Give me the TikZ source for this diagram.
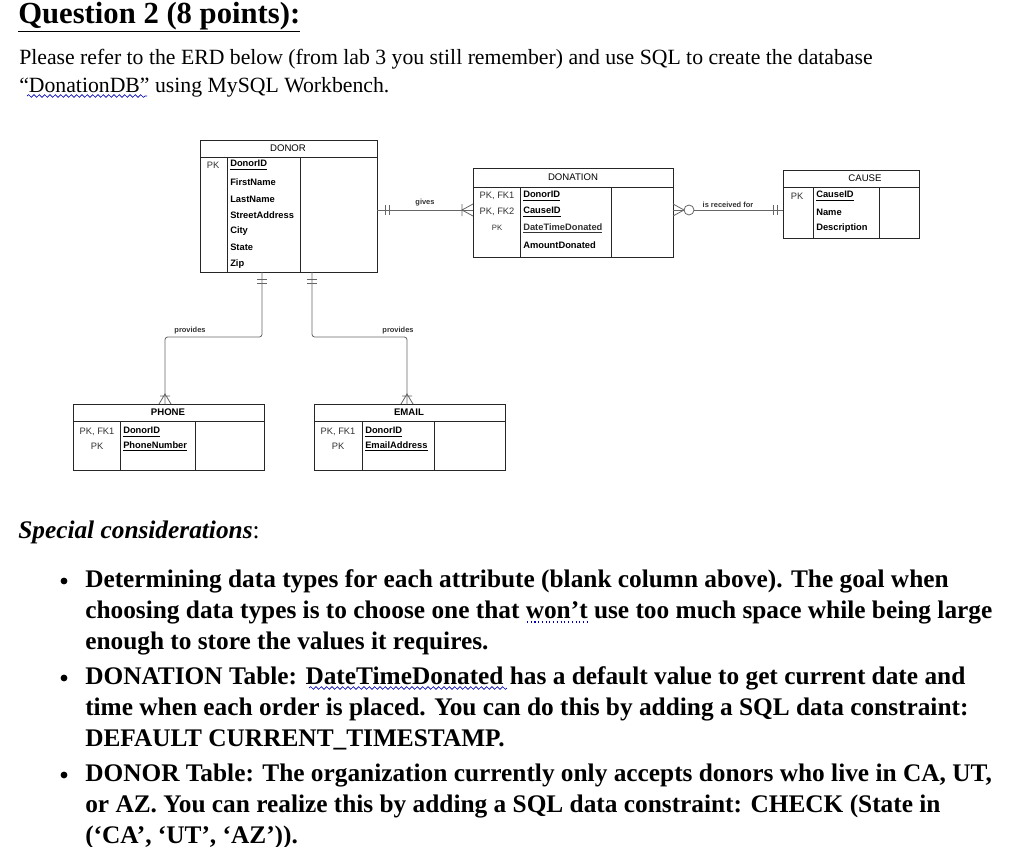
\documentclass[tikz,border=0pt]{standalone}
\usepackage{fontspec}
\setmainfont{Liberation Serif}
\newfontfamily\dsans{Liberation Sans}
\usetikzlibrary{decorations.pathmorphing}
\begin{document}
\begin{tikzpicture}[x=0.75pt,y=-0.75pt,
  tb/.style={draw=black!85,line width=0.6pt},
  lnk/.style={draw=black!60,line width=0.6pt},
  ttl/.style={font=\dsans\fontsize{7.2}{8}\selectfont,inner sep=0pt},
  ttlb/.style={font=\dsans\bfseries\fontsize{7.2}{8}\selectfont,inner sep=0pt},
  key/.style={font=\dsans\fontsize{7}{8}\selectfont,inner sep=0pt,text=black!80},
  att/.style={font=\dsans\bfseries\fontsize{7}{8}\selectfont,inner sep=0pt,anchor=west},
  rel/.style={font=\dsans\bfseries\fontsize{5.6}{7}\selectfont,inner sep=0pt,text=black!80},
  para/.style={font=\fontsize{16.3}{18}\selectfont,inner sep=0pt,anchor=base west},
  bul/.style={font=\bfseries\fontsize{19}{21}\selectfont,inner sep=0pt,anchor=base west},
  wavy/.style={draw=blue!70!black,line width=0.5pt,decorate,decoration={snake,amplitude=1pt,segment length=4pt}}]
\useasboundingbox[fill=white] (0,0) rectangle (1016,846);
% header text
\node[font=\bfseries\fontsize{23}{26}\selectfont,inner sep=0pt,anchor=base west] (q) at (18,23) {\underline{Question 2 (8 points):}};
\node[para] (p1) at (19,64) {Please refer to the ERD below (from lab 3 you still remember) and use SQL to create the database};
\node[para] (p2) at (19,92) {“DonationDB” using MySQL Workbench.};
\draw[wavy] (27,96) -- (147,96);
% DONOR
\draw[tb] (200,140) rectangle (377,272); \draw[tb] (200,157)--(377,157);
\draw[tb] (227,157)--(227,272); \draw[tb] (300,157)--(300,272);
\node[ttl] (donor) at (288,148) {DONOR};
\node[key] at (213,165) {PK};
\node[att] at (230,165) {\underline{DonorID}};
\node[att] at (230,182) {FirstName};
\node[att] at (230,199) {LastName};
\node[att] at (230,215) {StreetAddress};
\node[att] at (230,231) {City};
\node[att] at (230,247) {State};
\node[att] at (230,264) {Zip};
% DONATION
\draw[tb] (473,168) rectangle (673,257); \draw[tb] (473,187)--(673,187);
\draw[tb] (520,187)--(520,257); \draw[tb] (611,187)--(611,257);
\node[ttl] (donation) at (573,177) {DONATION};
\node[key] at (497,196) {PK, FK1};
\node[key] at (497,212) {PK, FK2};
\node[key,font=\dsans\fontsize{5.8}{7}\selectfont] at (497,228) {PK};
\node[att] at (523,196) {\underline{DonorID}};
\node[att] at (523,212) {\underline{CauseID}};
\node[att,font=\dsans\fontsize{7}{8}\selectfont\mdseries,text=black!80] at (523,228) {\underline{\textbf{DateTimeDonated}}};
\node[att] at (523,245) {AmountDonated};
% CAUSE
\draw[tb] (783,170) rectangle (919,238); \draw[tb] (783,187)--(919,187);
\draw[tb] (813,187)--(813,238); \draw[tb] (879,187)--(879,238);
\node[ttl] (cause) at (865,178) {CAUSE};
\node[key] at (797,196) {PK};
\node[att] at (816,196) {\underline{CauseID}};
\node[att] at (816,212) {Name};
\node[att] at (816,228) {Description};
% PHONE
\draw[tb] (73,404) rectangle (264,470); \draw[tb] (73,421)--(264,421);
\draw[tb] (120,421)--(120,470); \draw[tb] (195,421)--(195,470);
\node[ttlb] (phone) at (168,412) {PHONE};
\node[key] at (97,432) {PK, FK1};
\node[key] at (97,446) {PK};
\node[att] at (123,432) {\underline{DonorID}};
\node[att] at (123,446) {\underline{PhoneNumber}};
% EMAIL
\draw[tb] (314,404) rectangle (505,470); \draw[tb] (314,421)--(505,421);
\draw[tb] (362,421)--(362,470); \draw[tb] (434,421)--(434,470);
\node[ttlb] (email) at (409,412) {EMAIL};
\node[key] at (338,432) {PK, FK1};
\node[key] at (338,446) {PK};
\node[att] at (365,432) {\underline{DonorID}};
\node[att] at (365,446) {\underline{EmailAddress}};
% connection points
\coordinate (dr) at (377,210); \coordinate (nl) at (473,210);
\coordinate (nr) at (673,210); \coordinate (cl) at (783,210);
\coordinate (db1) at (262,272); \coordinate (db2) at (312,272);
\coordinate (pt) at (165,404); \coordinate (et) at (407,404);
% gives
\draw[lnk] (dr) -- (nl) node[rel,midway,above=3pt] {gives};
\draw[lnk] (385,205)--(385,215) (389,205)--(389,215);
\draw[lnk] (473,204)--(462,210)--(473,216) (462,204)--(462,216);
% is received for
\draw[lnk] (nr) -- (684,210) (694,210) -- (cl);
\node[rel] at (728,205) {is received for};
\draw[lnk] (673,204)--(684,210)--(673,216);
\draw[lnk] (689,210) circle (5);
\draw[lnk] (773,205)--(773,215) (777,205)--(777,215);
% provides
\draw[lnk,rounded corners=2pt] (db1) |- (165,337) -- (pt);
\draw[lnk,rounded corners=2pt] (db2) |- (407,337) -- (et);
\node[rel] at (190,331) {provides};
\node[rel] at (398,331) {provides};
\draw[lnk] (257,279)--(267,279) (257,283)--(267,283);
\draw[lnk] (307,279)--(317,279) (307,283)--(317,283);
\draw[lnk] (159,404)--(165,394)--(171,404) (160,396)--(170,396);
\draw[lnk] (401,404)--(407,394)--(413,404) (402,396)--(412,396);
% special considerations
\node[font=\bfseries\itshape\fontsize{19}{22}\selectfont,inner sep=0pt,anchor=base west] (sc) at (18,538) {Special considerations\textmd{\upshape :}};
\foreach \y in {587,684,781} \fill (64,\y-6) circle (3.4);
\node[bul] (b1) at (85,587) {Determining data types for each attribute (blank column above). The goal when};
\node[bul] at (85,618) {choosing data types is to choose one that won’t use too much space while being large};
\node[bul] at (85,649) {enough to store the values it requires.};
\draw[blue!70!black,dotted,line width=0.8pt] (527,622)--(590,622);
\node[bul] (b2) at (85,684) {DONATION Table: DateTimeDonated has a default value to get current date and};
\node[bul] at (85,715) {time when each order is placed. You can do this by adding a SQL data constraint:};
\node[bul] at (85,746) {DEFAULT CURRENT\_TIMESTAMP.};
\draw[wavy] (309,688) -- (507,688);
\node[bul] (b3) at (85,781) {DONOR Table: The organization currently only accepts donors who live in CA, UT,};
\node[bul] at (85,812) {or AZ. You can realize this by adding a SQL data constraint: CHECK (State in};
\node[bul] at (85,843) {(‘CA’, ‘UT’, ‘AZ’)).};
\end{tikzpicture}
\end{document}
